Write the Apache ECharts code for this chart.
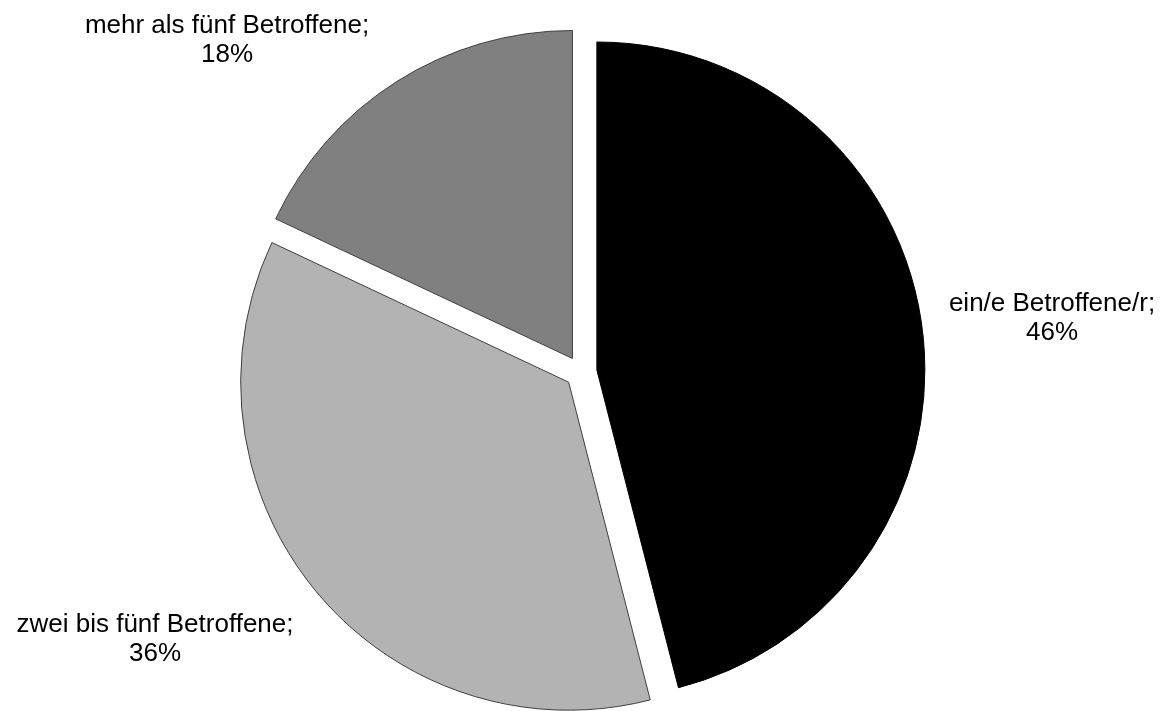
<!DOCTYPE html>
<html>
<head>
<meta charset="utf-8">
<script src="https://cdn.jsdelivr.net/npm/echarts@6/dist/echarts.min.js"></script>
<style>
  html, body { margin: 0; padding: 0; background: #fff; }
  #chart { width: 1166px; height: 711px; }
</style>
</head>
<body>
<div id="chart"></div>
<script>
// Anteile nach Anzahl der Betroffenen
const categories = ['ein/e Betroffene/r', 'zwei bis fünf Betroffene', 'mehr als fünf Betroffene'];
const shares = [46, 36, 18];
const sliceColors = ['#000000', '#b3b3b3', '#808080'];
const sliceBorders = ['#000000', '#404040', '#404040'];

// centre points of the two-line slice labels
const labelAnchors = [[1052, 318], [155, 639], [227, 40]];

const chart = echarts.init(document.getElementById('chart'), null, { renderer: 'canvas' });

const data = categories.map((name, i) => ({
  name: name,
  value: shares[i],
  selected: true,
  itemStyle: { color: sliceColors[i], borderColor: sliceBorders[i], borderWidth: 1 }
}));

const total = shares.reduce((a, b) => a + b, 0);
const labelTexts = categories.map((name, i) =>
  ({
    type: 'text',
    x: labelAnchors[i][0],
    y: labelAnchors[i][1],
    silent: true,
    style: {
      text: name + ';\n' + Math.round(shares[i] / total * 100) + '%',
      fill: '#000',
      font: '26px "Liberation Sans", Arial, sans-serif',
      lineHeight: 29,
      align: 'center',
      verticalAlign: 'middle'
    }
  }));

chart.setOption({
  animation: false,
  backgroundColor: '#ffffff',
  series: [{
    type: 'pie',
    center: [581, 372],
    radius: 328,
    startAngle: 90,
    clockwise: true,
    selectedMode: 'multiple',
    selectedOffset: 16,
    emphasis: { disabled: true },
    data: data,
    label: { show: false },
    labelLine: { show: false }
  }],
  graphic: labelTexts
});
</script>
</body>
</html>
